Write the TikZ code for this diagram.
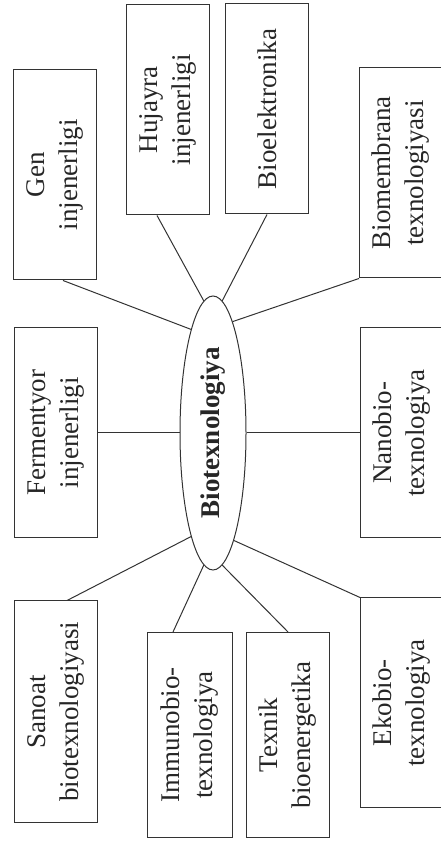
\documentclass[tikz,border=0pt]{standalone}
\usepackage{fontspec}
\setmainfont{Liberation Serif}
\usetikzlibrary{shapes.geometric, calc}

\begin{document}
\begin{tikzpicture}[x=1pt, y=1pt,
  box/.style={draw=black!80, line width=1pt, rotate=90, minimum width=210pt, minimum height=83pt, inner sep=2pt, align=center, text=black!85, font=\fontsize{27}{33}\selectfont},
  hub/.style={draw=black!80, line width=1pt, ellipse, rotate=90, minimum width=274pt, minimum height=66pt, inner sep=0pt, text=black!85, font=\fontsize{27}{33}\selectfont\bfseries},
  link/.style={draw=black!80, line width=1pt}]
\clip (0,0) rectangle (441,845);
\node[hub] (bio) at (213,412) {Biotexnologiya};
\node[box] (gen) at (55,670) {Gen\\injenerligi};
\node[box] (hujayra) at (168,735) {Hujayra\\injenerligi};
\node[box] (bioel) at (267,736) {Bioelektronika};
\node[box] (biomem) at (401,672) {Biomembrana\\texnologiyasi};
\node[box] (ferm) at (56,412) {Fermentyor\\injenerligi};
\node[box] (nano) at (402,412) {Nanobio-\\texnologiya};
\node[box, minimum width=222pt] (sanoat) at (56,133) {Sanoat\\biotexnologiyasi};
\node[box, minimum width=205pt, minimum height=85pt] (immuno) at (190,110) {Immunobio-\\texnologiya};
\node[box, minimum width=205pt] (texnik) at (288,110) {Texnik\\bioenergetika};
\node[box] (ekobio) at (402,142) {Ekobio-\\texnologiya};
\draw[link] ($(gen.west)+(8,0)$) -- (bio.12);
\draw[link] ($(hujayra.west)+(-11,0)$) -- (bio.4);
\draw[link] (bioel.west) -- (bio.-4);
\draw[link] (biomem.north west) -- (bio.-10);
\draw[link] (ferm.south) -- (bio.north);
\draw[link] (bio.south) -- (nano.north);
\draw[link] ($(sanoat.east)+(11,0)$) -- (bio.168);
\draw[link] ($(immuno.east)+(-17,0)$) -- (bio.176);
\draw[link] (texnik.east) -- (bio.184);
\draw[link] (ekobio.north east) -- (bio.191);
\end{tikzpicture}
\end{document}
